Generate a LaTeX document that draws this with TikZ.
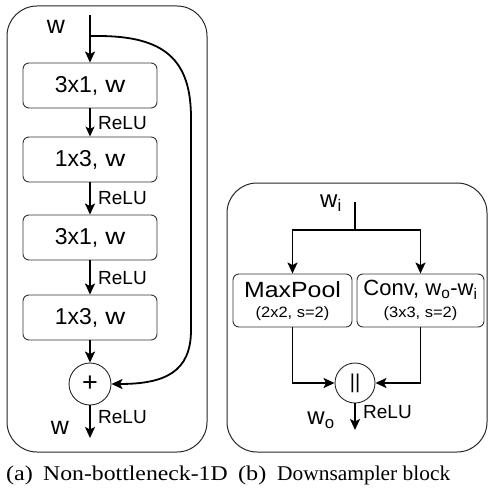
\documentclass[tikz,border=0pt]{standalone}
\usepackage{fontspec}
\setmainfont{Liberation Serif}
\setsansfont{Liberation Sans}
\usetikzlibrary{arrows.meta}
\newcommand\myhs[2]{\scalebox{#1}[1]{#2}}
\newcommand\fsz[1]{\fontsize{#1}{#1}\selectfont}
\tikzset{
  outerbox/.style={draw=black!85, line width=1pt, rounded corners=30pt},
  blk/.style={draw=black!80, line width=0.9pt, rounded corners=6pt, inner sep=0pt, font=\sffamily\fsz{23}},
  con/.style={line width=1.8pt, -{Stealth[length=11pt,width=10pt,inset=2.5pt]}},
  thincon/.style={line width=1.3pt, -{Stealth[length=10pt,width=9pt,inset=2.5pt]}},
  plain/.style={line width=1.8pt},
  op/.style={draw=black!85, line width=0.9pt, circle, minimum size=42pt, inner sep=0pt, font=\sffamily},
  relu/.style={anchor=west, inner sep=0pt, font=\sffamily\fsz{19}},
  lbl/.style={inner sep=0pt, font=\sffamily\fsz{25}},
  captxt/.style={anchor=base west, inner sep=0pt, font=\rmfamily\fsz{21}}
}
\begin{document}
\begin{tikzpicture}[x=1pt,y=-1pt]
\useasboundingbox (0,0) rectangle (489,487);
% ---------------- left panel ----------------
\draw[outerbox] (7,6) rectangle (207,452);
\node[blk, minimum width=134pt, minimum height=45pt] (b1) at (90,85.5) {3x1,\hspace{7pt}\myhs{1.2}{w}};
\node[blk, minimum width=134pt, minimum height=45pt] (b2) at (90,159.5) {1x3,\hspace{7pt}\myhs{1.2}{w}};
\node[blk, minimum width=134pt, minimum height=45pt] (b3) at (90,237.5) {3x1,\hspace{7pt}\myhs{1.2}{w}};
\node[blk, minimum width=134pt, minimum height=45pt] (b4) at (90,317.5) {1x3,\hspace{7pt}\myhs{1.2}{w}};
\node[op, font=\sffamily\fsz{27}] (plus) at (90,384) {+};
\coordinate (inA) at (90,15);
\coordinate (skip) at (90,36);
\coordinate (outA) at (90,438);
\node[lbl] (wA) at (56,27) {w};
\node[lbl] (wB) at (60,428) {w};
\draw[con] (inA) -- (b1.north);
\draw[thincon] (b1.south) -- (b2.north);
\draw[con] (b2.south) -- (b3.north);
\draw[con] (b3.south) -- (b4.north);
\draw[con] (b4.south) -- (plus.north);
\draw[con] (plus.south) -- (outA);
\draw[con] (skip) -- (98,36) .. controls (165,36) and (191,60) .. (191,118) -- (191,330) .. controls (191,372) and (165,384) .. (plus.east);
\node[relu] (r1) at (98,123) {ReLU};
\node[relu] (r2) at (98,198) {ReLU};
\node[relu] (r3) at (98,278) {ReLU};
\node[relu] (r4) at (98,417) {ReLU};
% ---------------- right panel ----------------
\draw[outerbox] (227,183) rectangle (487,452);
\node[blk, minimum width=119pt, minimum height=53pt] (mp) at (292.5,300.5) {};
\node[blk, minimum width=127pt, minimum height=53pt] (cv) at (420.5,300.5) {};
\node[inner sep=0pt, font=\sffamily\fsz{22}] (mpt) at (292.5,290) {\myhs{1.13}{MaxPool}};
\node[inner sep=0pt, font=\sffamily\fsz{15}] (mps) at (292.5,314) {\myhs{1.1}{(2x2, s=2)}};
\node[inner sep=0pt, font=\sffamily\fsz{22}] (cvt) at (420.5,290) {Conv, w\textsubscript{o}-w\textsubscript{i}};
\node[inner sep=0pt, font=\sffamily\fsz{15}] (cvs) at (420.5,314) {\myhs{1.1}{(3x3, s=2)}};
\node[op, minimum size=40pt, font=\sffamily\fsz{20}] (cat) at (355,383) {||};
\coordinate (inB) at (355,202);
\coordinate (split) at (355,230);
\coordinate (outB) at (355,430);
\node[inner sep=0pt, font=\sffamily\fsz{24}] (wi) at (331,203) {w\textsubscript{i}};
\node[inner sep=0pt, font=\sffamily\fsz{24}] (wo) at (321,420) {w\textsubscript{o}};
\draw[plain] (inB) -- (split);
\draw[con] (split) -| (mp.north);
\draw[con] (split) -| (cv.north);
\draw[con] (mp.south) |- (cat.west);
\draw[con] (cv.south) |- (cat.east);
\draw[con] (cat.south) -- (outB);
\node[relu] (r5) at (363,412) {ReLU};
% ---------------- captions ----------------
\node[captxt] (ca) at (6,480) {\myhs{1.15}{(a)}};
\node[captxt] (cat2) at (43,480) {\myhs{1.13}{Non-bottleneck-1D}};
\node[captxt] (cb) at (238,480) {\myhs{1.15}{(b)}};
\node[captxt] (cbt) at (277,480) {\myhs{1.02}{Downsampler block}};
\end{tikzpicture}
\end{document}
